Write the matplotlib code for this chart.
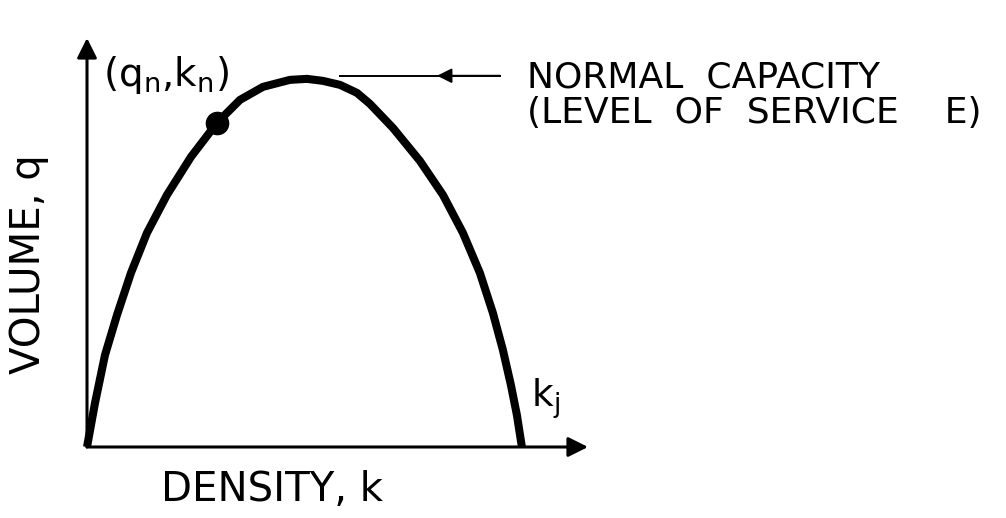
import matplotlib
matplotlib.use("Agg")
import matplotlib.pyplot as plt

# volume-density curve (k, q scaled so kj = 100, peak q ~ 100)
density = [0, 1.84, 4.14, 6.90, 10.11, 13.79, 18.39, 23.91, 29.89, 35.17, 40.46, 46.67, 50.57, 54.25,
           58.16, 62.07, 65.06, 70.34, 76.55, 81.84, 86.44, 90.34, 93.33, 95.63, 97.47, 98.85, 100]
volume = [0, 11.89, 24.86, 35.68, 47.03, 57.84, 68.11, 78.38, 87.57, 93.78, 97.30, 99.19, 99.46, 98.92,
          97.84, 95.68, 92.70, 86.22, 77.30, 68.11, 57.84, 47.03, 36.22, 26.22, 16.76, 8.65, 0]
kn, qn = 29.89, 87.57
kj = 100
q_cap = 100.3

plt.rcParams['font.family'] = ['DejaVu Sans']

fig = plt.figure(figsize=(10.06, 5.18), dpi=100)
ax = fig.add_axes([87 / 1006, 71 / 518, 501 / 1006, 409 / 518])
ax.set_xlim(0, 115.2)
ax.set_ylim(0, 110.5)
ax.axis('off')

ax.plot(density, volume, color='black', lw=5.8, solid_capstyle='butt', solid_joinstyle='round', clip_on=False)
ax.plot([kn], [qn], 'o', color='black', markersize=16, clip_on=False)

# axes with arrows
arrow = dict(arrowstyle='-|>', color='black', lw=2.2, mutation_scale=30, shrinkA=0, shrinkB=0)
ax.annotate('', xy=(115.2, 0), xytext=(0, 0), xycoords='data', arrowprops=arrow, annotation_clip=False)
ax.annotate('', xy=(0, 110.5), xytext=(0, 0), xycoords='data', arrowprops=arrow, annotation_clip=False)

# pointer to capacity
ax.plot([58.2, 95], [q_cap, q_cap], color='black', lw=1.4, clip_on=False)
ax.annotate('', xy=(80.5, q_cap), xytext=(95, q_cap),
            arrowprops=dict(arrowstyle='-|>', color='black', lw=1.4, mutation_scale=22, shrinkA=0, shrinkB=0),
            annotation_clip=False)

ax.text(101.1, 99.7, 'NORMAL  CAPACITY', fontsize=26, va='center', ha='left')
ax.text(101.1, 90.3, '(LEVEL  OF  SERVICE    E)', fontsize=26, va='center', ha='left')
ax.text(3.7, 100.5, r'(q$_\mathregular{n}$,k$_\mathregular{n}$)', fontsize=28, va='center', ha='left')
ax.text(102.0, 13, r'k$_\mathregular{j}$', fontsize=27, va='center', ha='left')
ax.text(42.5, -11.6, 'DENSITY, k', fontsize=29, va='center', ha='center')
ax.text(-13.4, 49.5, 'VOLUME, q', fontsize=29, va='center', ha='center', rotation=90)

fig.savefig('out.png', dpi=100)
